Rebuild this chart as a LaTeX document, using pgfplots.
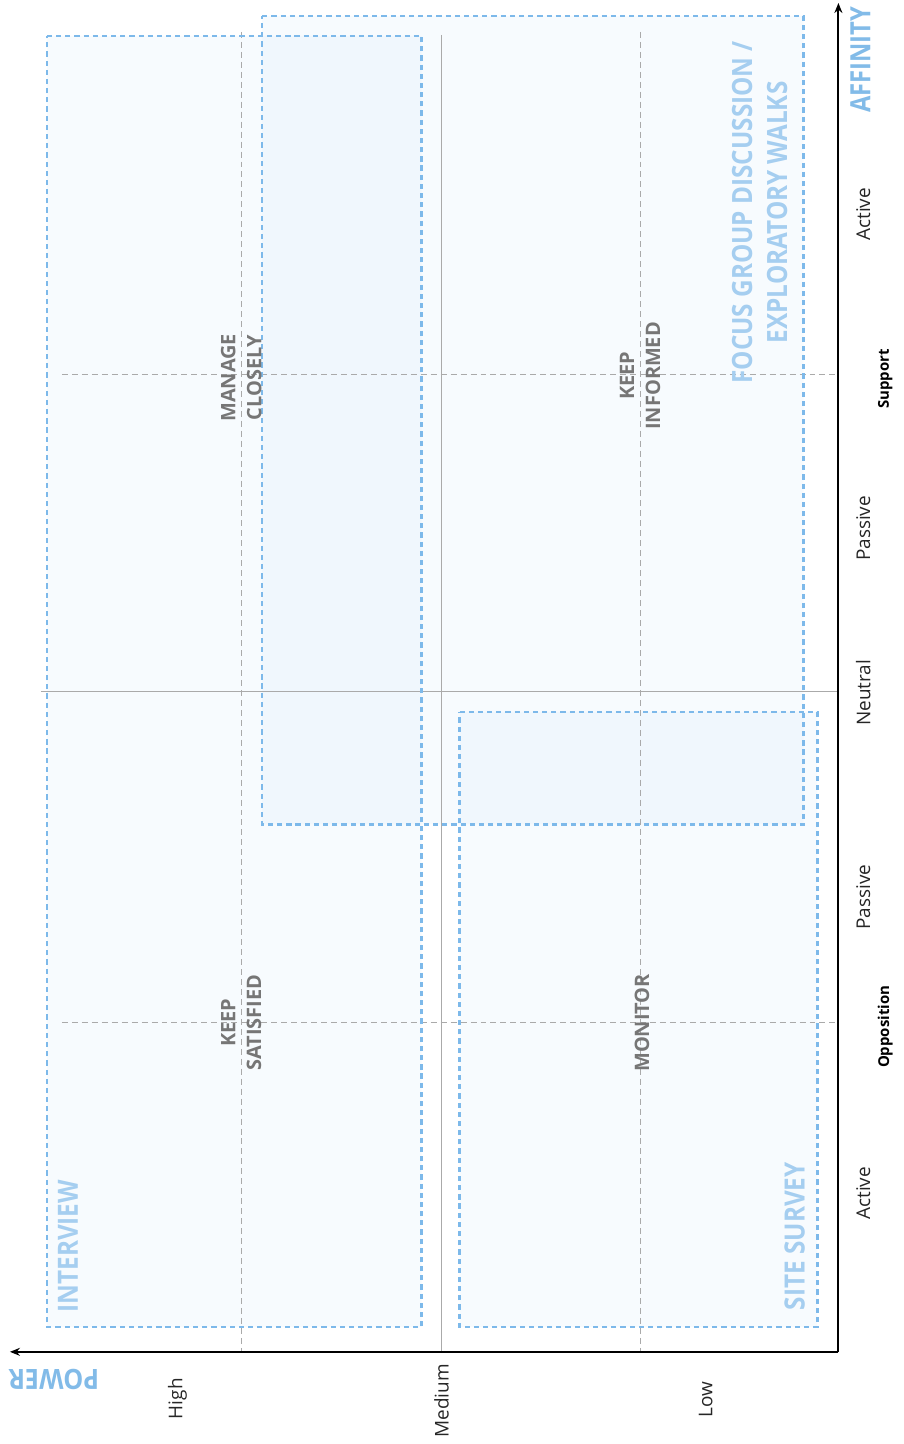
\documentclass[border=0pt]{standalone}
\usepackage{fontspec}
\setmainfont{Open Sans}
\usepackage{pgfplots}
\pgfplotsset{compat=1.18}
\usetikzlibrary{arrows.meta}

\definecolor{boxblue}{RGB}{125,185,234}
\definecolor{boxtext}{RGB}{165,206,240}
\definecolor{axtitle}{RGB}{130,187,232}
\definecolor{quad}{RGB}{118,118,118}
\definecolor{gridc}{RGB}{170,170,170}

\begin{document}
\begin{tikzpicture}
\begin{axis}[
    scale only axis,
    width=453pt, height=722pt,
    xmin=0, xmax=906, ymin=0, ymax=1444,
    y dir=reverse,
    hide axis,
    clip=false,
]
% method boxes (fills)
\addplot[draw=none, fill=boxblue, fill opacity=0.06] coordinates {(47,36) (423,36) (423,1331) (47,1331) (47,36)};
\addplot[draw=none, fill=boxblue, fill opacity=0.06] coordinates {(263,16) (806,16) (806,827) (263,827) (263,16)};
\addplot[draw=none, fill=boxblue, fill opacity=0.06] coordinates {(461,714) (820,714) (820,1331) (461,1331) (461,714)};

% grid: medium / neutral
\addplot[gridc, line width=0.6pt] coordinates {(443,35) (443,1356)};
\addplot[gridc, line width=0.6pt] coordinates {(41,694) (841,694)};
% grid: dashed centres
\addplot[gridc, line width=0.5pt, dash pattern=on 3pt off 2pt] coordinates {(242,32) (242,1356)};
\addplot[gridc, line width=0.5pt, dash pattern=on 3pt off 2pt] coordinates {(642,32) (642,1356)};
\addplot[gridc, line width=0.5pt, dash pattern=on 3pt off 2pt] coordinates {(62,376) (841,376)};
\addplot[gridc, line width=0.5pt, dash pattern=on 3pt off 2pt] coordinates {(62,1026) (841,1026)};

% method boxes (borders)
\addplot[boxblue, line width=1.3pt, dash pattern=on 2.6pt off 2pt] coordinates {(47,36) (423,36) (423,1331) (47,1331) (47,36)};
\addplot[boxblue, line width=1.3pt, dash pattern=on 2.6pt off 2pt] coordinates {(263,16) (806,16) (806,827) (263,827) (263,16)};
\addplot[boxblue, line width=1.3pt, dash pattern=on 2.6pt off 2pt] coordinates {(461,714) (820,714) (820,1331) (461,1331) (461,714)};

% axes
\addplot[black, line width=1pt, -{Stealth[length=5pt,width=4pt]}] coordinates {(841,1356) (841,3)};
\addplot[black, line width=1pt, -{Stealth[length=5pt,width=4pt]}] coordinates {(841,1356) (10,1356)};

% affinity tick labels
\begin{scope}[every node/.style={rotate=90, font=\fontsize{9.5}{11}\selectfont, text=black!85}]
\node at (axis cs:866,215) {Active};
\node at (axis cs:866,530) {Passive};
\node at (axis cs:866,695) {Neutral};
\node at (axis cs:866,900) {Passive};
\node at (axis cs:866,1197) {Active};
\node at (axis cs:178,1403) {High};
\node at (axis cs:443,1405) {Medium};
\node at (axis cs:708,1404) {Low};
\end{scope}
\node[rotate=90, font=\fontsize{7.5}{9}\selectfont\bfseries] at (axis cs:888,380) {Support};
\node[rotate=90, font=\fontsize{7.5}{9}\selectfont\bfseries] at (axis cs:888,1030) {Opposition};

% axis titles
\node[rotate=180, xscale=0.9, font=\fontsize{14}{16}\selectfont\bfseries, text=axtitle] at (axis cs:54,1384) {POWER};
\node[rotate=90, xscale=0.85, font=\fontsize{14}{16}\selectfont\bfseries, text=axtitle] at (axis cs:863,60) {AFFINITY};

% quadrant labels
\begin{scope}[every node/.style={rotate=90, align=center, font=\fontsize{10}{13}\selectfont\bfseries, text=quad}]
\node at (axis cs:242,379) {MANAGE\\CLOSELY};
\node at (axis cs:642,377) {KEEP\\INFORMED};
\node at (axis cs:242,1026) {KEEP\\SATISFIED};
\node at (axis cs:644,1026) {MONITOR};
\end{scope}

% method labels
\begin{scope}[every node/.style={rotate=90, xscale=0.87, align=center, font=\fontsize{14}{17.5}\selectfont\bfseries, text=boxtext}]
\node at (axis cs:68,1250) {INTERVIEW};
\node at (axis cs:797,1240) {SITE SURVEY};
\node at (axis cs:762,213) {FOCUS GROUP DISCUSSION /\\EXPLORATORY WALKS};
\end{scope}

\path (axis cs:0,0) rectangle (axis cs:906,1444);
\end{axis}
\end{tikzpicture}
\end{document}
